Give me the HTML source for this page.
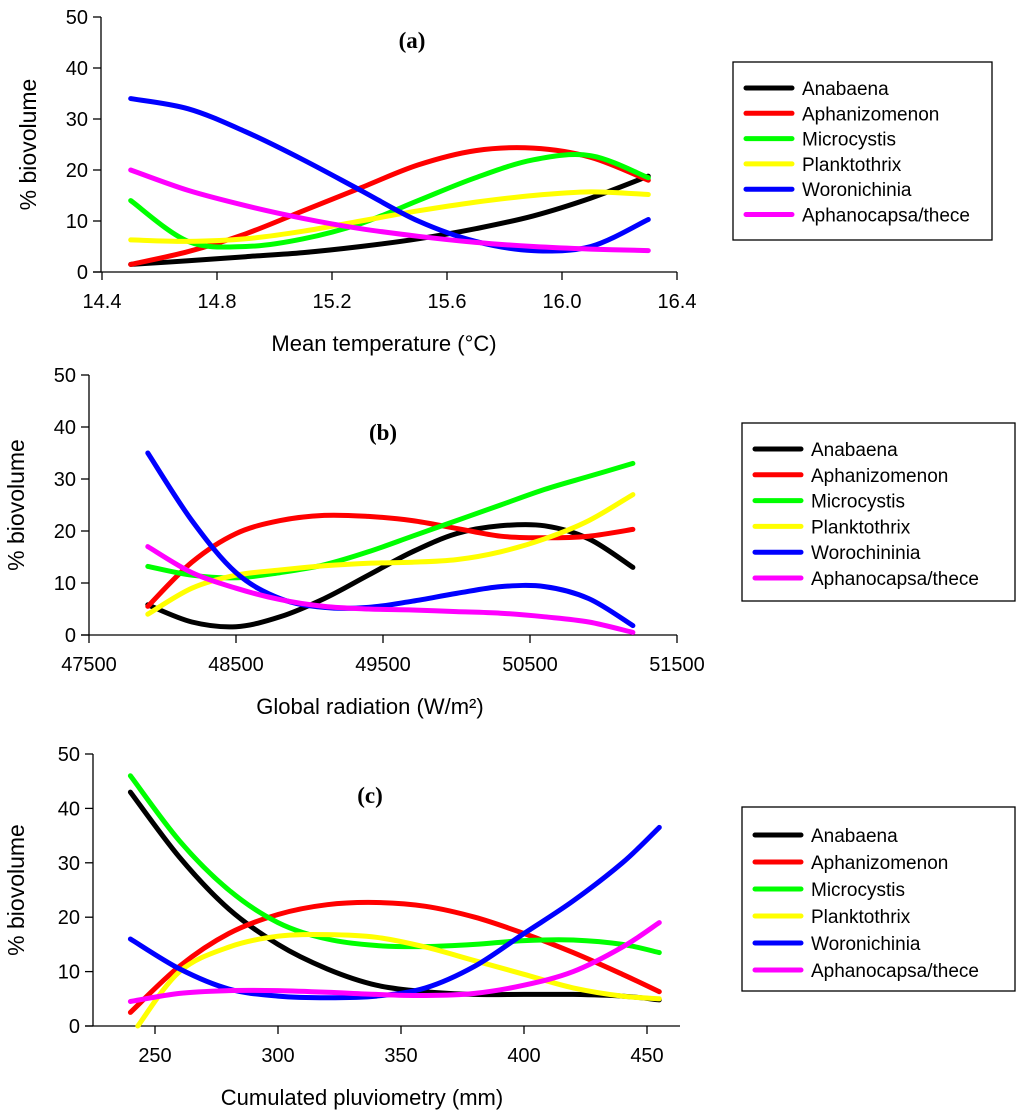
<!DOCTYPE html>
<html><head><meta charset="utf-8">
<style>
body{margin:0;background:#fff;}
svg{display:block;font-family:"Liberation Sans",sans-serif;}
</style></head>
<body>
<svg id="chart" width="1024" height="1119" viewBox="0 0 1024 1119" xmlns="http://www.w3.org/2000/svg"></svg>
<script>
const seriesNames = ["Anabaena","Aphanizomenon","Microcystis","Planktothrix","Woronichinia","Aphanocapsa/thece"];
const seriesNamesB = ["Anabaena","Aphanizomenon","Microcystis","Planktothrix","Worochininia","Aphanocapsa/thece"];
const colors = ["#000000","#ff0000","#00ff00","#ffff00","#0000ff","#ff00ff"];

const xA = [14.5,14.7,14.9,15.1,15.3,15.5,15.7,15.9,16.1,16.3];
const aAnabaena = [1.5,2.2,3,3.8,5,6.5,8.5,11,14.5,18.8];
const aAphanizomenon = [1.5,4,7.5,12,16.5,21,23.8,24.3,22.5,18];
const aMicrocystis = [14,6,5,6.5,9.5,14,18.5,22,22.8,18.5];
const aPlanktothrix = [6.3,6,6.5,8,10,12,13.7,15,15.7,15.2];
const aWoronichinia = [34,32,27.5,22,16,10,6,4.2,5,10.3];
const aAphanocapsa = [20,16,13,10.5,8.5,7,5.8,5,4.5,4.2];
const ticksXA = ["14.4","14.8","15.2","15.6","16.0","16.4"];

const xB = [47900,48200,48500,48800,49100,49400,49700,50000,50300,50600,50900,51200];
const bAnabaena = [5.8,2.5,1.6,3.5,7,11.5,16,19.5,21,21,18.5,13];
const bAphanizomenon = [5.5,14,19.5,22,23,22.8,22,20.5,19,18.7,19,20.3];
const bMicrocystis = [13.2,11.5,11,12,13.5,16,19,22,25,28,30.5,33];
const bPlanktothrix = [4,9,11.5,12.5,13.3,13.8,14,14.5,16,18.5,22,27];
const bWoronichinia = [35,22,12,7,5.3,5.3,6.5,8,9.3,9.3,7,1.8];
const bAphanocapsa = [17,12,9,6.8,5.5,5,4.8,4.5,4.2,3.5,2.5,0.5];
const ticksXB = ["47500","48500","49500","50500","51500"];

const xC = [240,260,280,300,320,340,360,380,400,420,440,455];
const xCPlank = [243,260,280,300,320,340,360,380,400,420,440,455];
const cAnabaena = [43,31,21.5,15,10.5,7.5,6.3,5.8,5.8,5.8,5.5,4.8];
const cAphanizomenon = [2.5,11,17,20.5,22.3,22.7,22,20,17,13.5,9.5,6.3];
const cMicrocystis = [46,34,25,19,16,14.8,14.6,15,15.7,15.8,15,13.5];
const cPlanktothrix = [0,10,14.5,16.5,16.8,16.3,14.5,12,9.5,7,5.5,5];
const cWoronichinia = [16,10.5,6.8,5.5,5.2,5.5,7,11,17,23,30,36.5];
const cAphanocapsa = [4.5,6,6.5,6.5,6.2,5.8,5.6,6,7.5,10,14.5,19];
const ticksXC = ["250","300","350","400","450"];
const ticksY = ["0","10","20","30","40","50"];

const svg = document.getElementById('chart');
const NS = "http://www.w3.org/2000/svg";
function mk(tag, attrs, parent){const e=document.createElementNS(NS,tag);for(const k in attrs)e.setAttribute(k,attrs[k]);(parent||svg).appendChild(e);return e;}
function txt(s, attrs, parent){const e=mk('text',attrs,parent);e.textContent=s;return e;}

function smoothPath(pts){
  let d="M"+pts[0][0].toFixed(1)+","+pts[0][1].toFixed(1);
  for(let i=0;i<pts.length-1;i++){
    const p0=pts[i-1]||pts[i],p1=pts[i],p2=pts[i+1],p3=pts[i+2]||p2;
    const c1=[p1[0]+(p2[0]-p0[0])/6,p1[1]+(p2[1]-p0[1])/6];
    const c2=[p2[0]-(p3[0]-p1[0])/6,p2[1]-(p3[1]-p1[1])/6];
    d+=" C"+c1[0].toFixed(1)+","+c1[1].toFixed(1)+" "+c2[0].toFixed(1)+","+c2[1].toFixed(1)+" "+p2[0].toFixed(1)+","+p2[1].toFixed(1);
  }
  return d;
}

function panel(cfg){
  const g=mk('g',{});
  
  
  const X=v=>cfg.xrefPx+(v-cfg.xref)*cfg.xs;
  const Y=v=>cfg.y0px-(v)*(cfg.y0px-cfg.y50px)/50;
  const ya=mk('line',{x1:cfg.x0px,y1:cfg.y50px,x2:cfg.x0px,y2:cfg.y0px,stroke:"#000","stroke-width":1.3},g);
  
  
  const xEnd=X(parseFloat(cfg.ticks[cfg.ticks.length-1]));
  const xa=mk('line',{x1:cfg.x0px-8,y1:cfg.y0px,x2:cfg.xEndPx||xEnd,y2:cfg.y0px,stroke:"#000","stroke-width":1.3},g);
  
  
  ticksY.forEach(t=>{
    const y=Y(parseFloat(t));
    mk('line',{x1:cfg.x0px-8,y1:y,x2:cfg.x0px,y2:y,stroke:"#000","stroke-width":1.3},g);
    const l=txt(t,{x:cfg.x0px-13,y:y+7,"font-size":20,"text-anchor":"end"},g);
    
    
  });
  cfg.ticks.forEach(t=>{
    const x=X(parseFloat(t));
    mk('line',{x1:x,y1:cfg.y0px,x2:x,y2:cfg.y0px+8,stroke:"#000","stroke-width":1.3},g);
    const l=txt(t,{x:x,y:cfg.y0px+36,"font-size":20,"text-anchor":"middle"},g);
    
    
  });
  const yt=txt("% biovolume",{x:0,y:0,"font-size":23,"text-anchor":"middle",transform:`translate(${cfg.ylabX},${(cfg.y0px+cfg.y50px)/2}) rotate(-90)`},g);
  
  
  const xt=txt(cfg.xtitle,{x:cfg.xtitleX,y:cfg.y0px+79,"font-size":22,"text-anchor":"middle"},g);
  
  
  const pl=txt(cfg.letter,{x:cfg.letterX,y:cfg.letterY,"font-size":23,"font-weight":"bold","font-family":"Liberation Serif, serif","text-anchor":"middle"},g);
  
  
  cfg.series.forEach((s,i)=>{
    const xs=cfg.xsArr[i];
    const pts=s.map((v,j)=>[X(xs[j]),Y(v)]);
    const p=mk('path',{d:smoothPath(pts),fill:"none",stroke:colors[i],"stroke-width":5,"stroke-linecap":"round"},g);
    
    
  });
  const lg=mk('g',{},g);
  
  
  mk('rect',{x:cfg.lx,y:cfg.ly,width:cfg.lw,height:cfg.lh,fill:"#fff",stroke:"#000","stroke-width":1.3},lg);
  cfg.names.forEach((n,i)=>{
    const y=cfg.ly+cfg.lFirst+i*cfg.lStep;
    const e=mk('g',{},lg);
    
    
    mk('line',{x1:cfg.lx+13,y1:y,x2:cfg.lx+59,y2:y,stroke:colors[i],"stroke-width":5,"stroke-linecap":"round"},e);
    txt(n,{x:cfg.lx+69,y:y+7,"font-size":19},e);
  });
}

panel({name:"panel-a",x0px:101,xref:14.4,xrefPx:102,xs:287.5,y0px:272,y50px:17,ticks:ticksXA,ylabX:36,
  xtitle:"Mean temperature (°C)",xtitleX:384,letter:"(a)",letterX:412,letterY:48,
  series:[aAnabaena,aAphanizomenon,aMicrocystis,aPlanktothrix,aWoronichinia,aAphanocapsa],
  xsArr:[xA,xA,xA,xA,xA,xA],names:seriesNames,
  lx:733,ly:62,lw:259,lh:178,lFirst:26,lStep:25.3});
panel({name:"panel-b",x0px:89,xref:47500,xrefPx:89,xs:0.147,y0px:635,y50px:375,ticks:ticksXB,ylabX:24,
  xtitle:"Global radiation (W/m²)",xtitleX:370,letter:"(b)",letterX:383,letterY:440,
  series:[bAnabaena,bAphanizomenon,bMicrocystis,bPlanktothrix,bWoronichinia,bAphanocapsa],
  xsArr:[xB,xB,xB,xB,xB,xB],names:seriesNamesB,
  lx:742,ly:423,lw:273,lh:178,lFirst:26,lStep:25.8});
panel({name:"panel-c",x0px:93,xref:250,xrefPx:155,xs:2.46,xEndPx:680,y0px:1026,y50px:754,ticks:ticksXC,ylabX:24,
  xtitle:"Cumulated pluviometry (mm)",xtitleX:362,letter:"(c)",letterX:370,letterY:803,
  series:[cAnabaena,cAphanizomenon,cMicrocystis,cPlanktothrix,cWoronichinia,cAphanocapsa],
  xsArr:[xC,xC,xC,xCPlank,xC,xC],names:seriesNames,
  lx:742,ly:807,lw:273,lh:184,lFirst:28,lStep:27});
</script>
</body></html>
